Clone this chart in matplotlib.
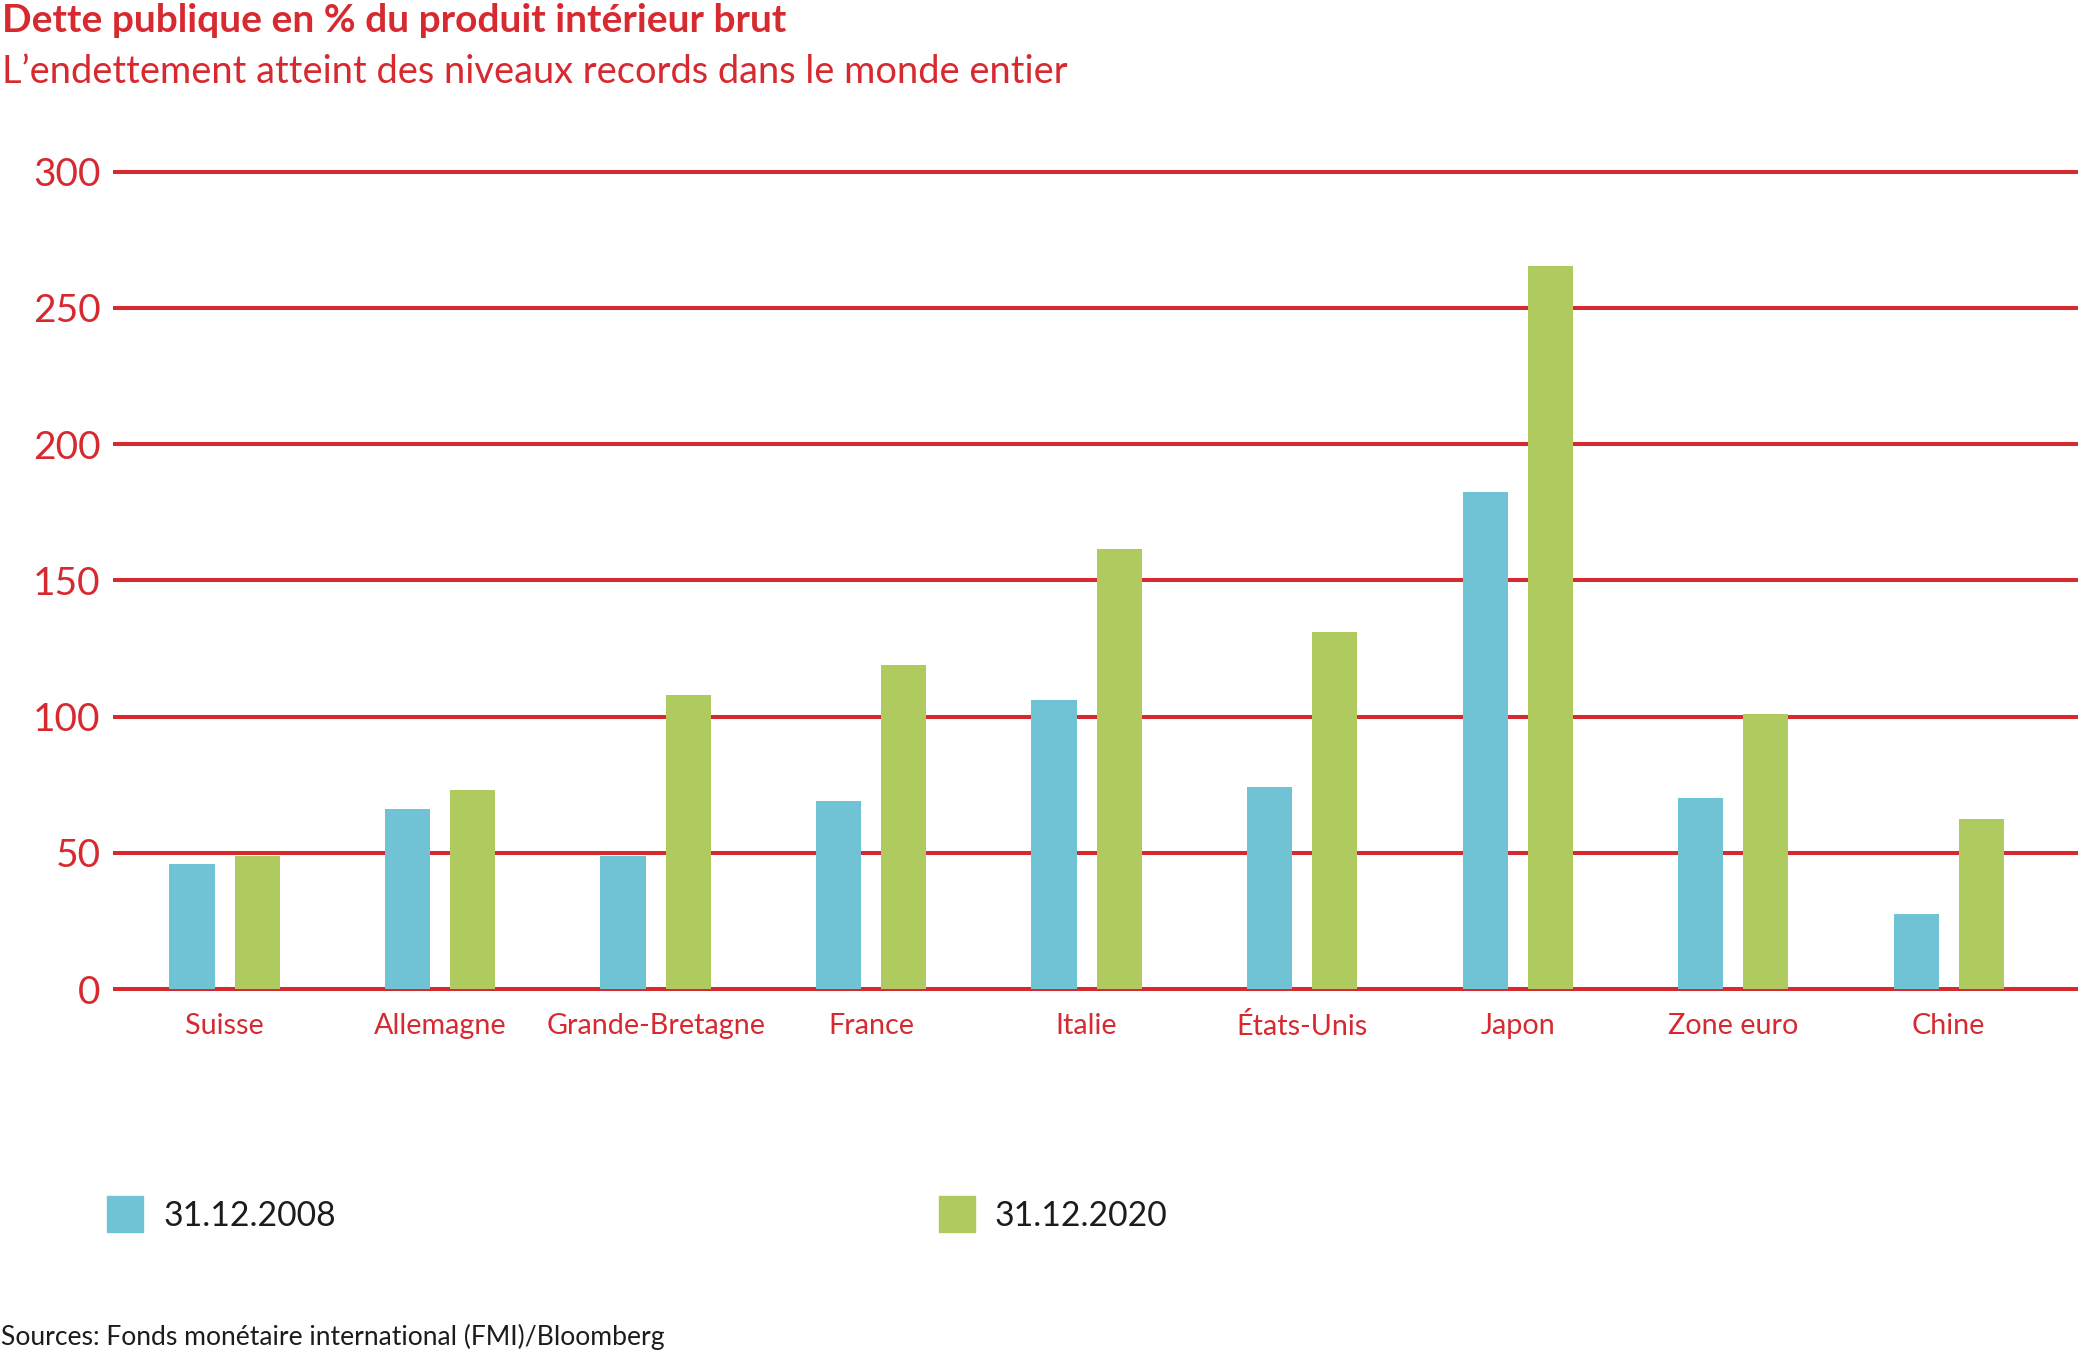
import matplotlib

matplotlib.use("Agg")
import matplotlib.pyplot as plt
from matplotlib.patches import Rectangle
import numpy as np

plt.rcParams["font.family"] = ["Lato", "DejaVu Sans"]

RED = "#d62a30"
BLUE = "#70c2d5"
GREEN = "#afcb5f"
INK = "#1c1c1c"

# données (% du PIB)
pays = ["Suisse", "Allemagne", "Grande-Bretagne", "France", "Italie",
        "États-Unis", "Japon", "Zone euro", "Chine"]
dette_2008 = [46, 66, 49, 69, 106, 74, 182.5, 70, 27.5]
dette_2020 = [49, 73, 108, 119, 161.5, 131, 265.3, 101, 62.5]
series_labels = ["31.12.2008", "31.12.2020"]
yticks = [0, 50, 100, 150, 200, 250, 300]

W, H = 2081, 1354
fig = plt.figure(figsize=(W / 100, H / 100), dpi=100)

# axes : 0 à y=989 px, 300 à y=171.7 px, x de 113 à 2078 px
px_per_unit = (989 - 171.7) / 300
y_lo, y_hi = -1.0, 301.0
ax_bottom = 989 + (0 - y_lo) * px_per_unit
ax_top = 171.7 - (y_hi - 300) * px_per_unit
ax = fig.add_axes([113 / W, 1 - ax_bottom / H, (2078 - 113) / W, (ax_bottom - ax_top) / H])

x = np.arange(len(pays))
w = 0.21
off = 0.151
ax.bar(x - off, dette_2008, width=w, color=BLUE, zorder=3)
ax.bar(x + off, dette_2020, width=w, color=GREEN, zorder=3)

ax.set_xlim(-0.518, 8.60)
ax.set_ylim(y_lo, y_hi)
ax.set_yticks(yticks)
ax.set_xticks(x)
ax.set_xticklabels(pays)
ax.grid(axis="y", color=RED, linewidth=2.9)
ax.set_axisbelow(True)
for s in ax.spines.values():
    s.set_visible(False)
ax.tick_params(axis="y", length=0, pad=9, labelsize=28, labelcolor=RED)
ax.tick_params(axis="x", length=0, pad=15, labelsize=20.7, labelcolor=RED)

# titres
fig.text(2 / W, 1 - 31.7 / H, "Dette publique en % du produit intérieur brut",
         color=RED, fontsize=28, fontweight="bold", va="baseline", ha="left")
fig.text(2 / W, 1 - 83 / H, "L’endettement atteint des niveaux records dans le monde entier",
         color=RED, fontsize=27.4, va="baseline", ha="left")

# légende
for (sx, tx), col, lab in zip([(107, 164), (939, 995)], [BLUE, GREEN], series_labels):
    fig.patches.append(Rectangle((sx / W, 1 - 1232 / H), 36 / W, 36 / H,
                                 transform=fig.transFigure, color=col))
    fig.text(tx / W, 1 - 1226 / H, lab, color=INK, fontsize=24.3,
             va="baseline", ha="left")

fig.text(1 / W, 1 - 1345 / H, "Sources: Fonds monétaire international (FMI)/Bloomberg",
         color=INK, fontsize=19.1, va="baseline", ha="left")

fig.savefig("out.png", dpi=100, facecolor="white")
